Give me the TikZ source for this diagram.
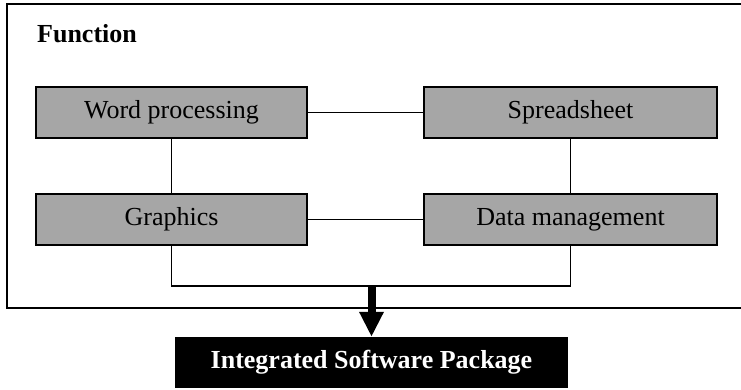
\documentclass[tikz,border=0pt]{standalone}
\usepackage{fontspec}
\setmainfont{Liberation Serif}
\usetikzlibrary{arrows.meta}
\definecolor{boxgray}{RGB}{166,166,166}
\tikzset{
  func/.style={draw=black, line width=1.3pt, fill=boxgray, minimum height=51pt, inner sep=0pt, anchor=center, font=\fontsize{26}{31}\selectfont},
  conn/.style={line width=1.5pt},
}
\begin{document}
\begin{tikzpicture}[x=1pt,y=-1pt]
\useasboundingbox (0,0) rectangle (741,390);
\fill[white] (0,0) rectangle (741,390);
\draw[line width=1.8pt] (7,4) rectangle (745,308);
\node[anchor=base west, font=\fontsize{26}{31}\selectfont\bfseries, inner sep=0pt] (title) at (37,43) {Function};
\node[func, minimum width=271pt] (wp) at (171.5,112.5) {Word processing};
\node[func, minimum width=293pt] (ss) at (570.5,112.5) {Spreadsheet};
\node[func, minimum width=271pt] (gr) at (171.5,219.5) {Graphics};
\node[func, minimum width=293pt] (dm) at (570.5,219.5) {Data management};
\node[fill=black, text=white, minimum width=393pt, minimum height=51pt, inner sep=0pt, font=\fontsize{26}{31}\selectfont\bfseries] (pkg) at (371.5,362.5) {Integrated Software Package};
\coordinate (bl) at (171.5,286);
\coordinate (br) at (570.5,286);
\coordinate (mid) at (371.5,286);
\draw[conn] (wp.east) -- (ss.west);
\draw[conn] (gr.east) -- (dm.west);
\draw[conn] (wp.south) -- (gr.north);
\draw[conn] (ss.south) -- (dm.north);
\draw[conn] (gr.south) -- (bl) -- (br) -- (dm.south);
\draw[line width=8pt, -{Triangle[width=23pt,length=25pt]}] (mid) -- (pkg.north);
\end{tikzpicture}
\end{document}
